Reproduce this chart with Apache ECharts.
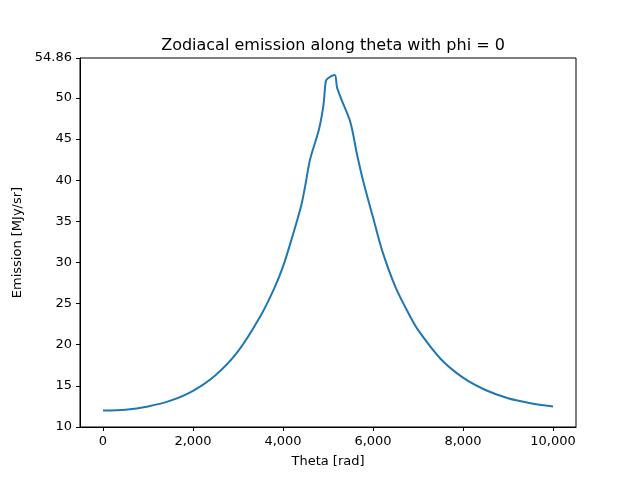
<!DOCTYPE html>
<html>
<head>
<meta charset="utf-8">
<script src="https://cdn.jsdelivr.net/npm/echarts@6/dist/echarts.min.js"></script>
<style>html,body{margin:0;padding:0;background:#fff}#chart{width:640px;height:480px}</style>
</head>
<body>
<div id="chart"></div>
<script>
// theta values and emission
var theta = [0, 500, 1000, 1500, 2000, 2500, 3000, 3500, 3800, 4000, 4200, 4400, 4500, 4600, 4800, 4900, 4950, 5000, 5150, 5200, 5300, 5500, 5650, 5800, 6000, 6200, 6500, 6800, 7000, 7500, 8000, 8500, 9000, 9500, 10000];
var emission = [12.0, 12.1, 12.5, 13.2, 14.4, 16.3, 19.2, 23.5, 26.8, 29.5, 33.0, 36.8, 39.5, 42.5, 46.2, 49.2, 52.0, 52.4, 52.8, 51.3, 49.8, 47.0, 43.0, 39.5, 35.5, 31.5, 27.0, 23.7, 21.8, 18.3, 16.0, 14.5, 13.5, 12.9, 12.5];

var chart = echarts.init(document.getElementById("chart"));
var data = theta.map(function(t, i) { return [t, emission[i]]; });
var axisStyle = {
	axisLine: { show: true, onZero: false, lineStyle: { color: '#000' } },
	axisTick: { show: true, length: 4, inside: false, lineStyle: { color: '#000' } },
	axisLabel: { color: '#000', fontSize: 13, fontFamily: 'DejaVu Sans' },
	splitLine: { show: false },
	nameTextStyle: { color: '#000', fontSize: 13, fontFamily: 'DejaVu Sans' }
};
chart.setOption({
	animation: false,
	title: {
		text: 'Zodiacal emission along theta with phi = 0',
		left: 328, top: 33, textAlign: 'center',
		textStyle: { fontSize: 16, fontWeight: 'normal', color: '#000', fontFamily: 'DejaVu Sans' }
	},
	grid: { left: 80, right: 64, top: 58, bottom: 53, show: true, borderColor: '#000', borderWidth: 1 },
	xAxis: Object.assign({
		type: 'value', min: -511, max: 10511, interval: 2000,
		name: 'Theta [rad]', nameLocation: 'middle', nameGap: 28,
		axisLabel: { color: '#000', fontSize: 13, fontFamily: 'DejaVu Sans',
			customValues: [0, 2000, 4000, 6000, 8000, 10000] },
		axisTick: { show: true, length: 4, lineStyle: { color: '#000' },
			customValues: [0, 2000, 4000, 6000, 8000, 10000] }
	}, {
		axisLine: axisStyle.axisLine, splitLine: axisStyle.splitLine, nameTextStyle: axisStyle.nameTextStyle
	}),
	yAxis: Object.assign({
		type: 'value', min: 10, max: 54.86, interval: 5,
		name: 'Emission [MJy/sr]', nameLocation: 'middle', nameGap: 40
	}, axisStyle),
	series: [{
		type: 'line', data: data, showSymbol: false, smooth: 0.3,
		lineStyle: { color: '#1f77b4', width: 2 }
	}]
});
</script>
</body>
</html>
